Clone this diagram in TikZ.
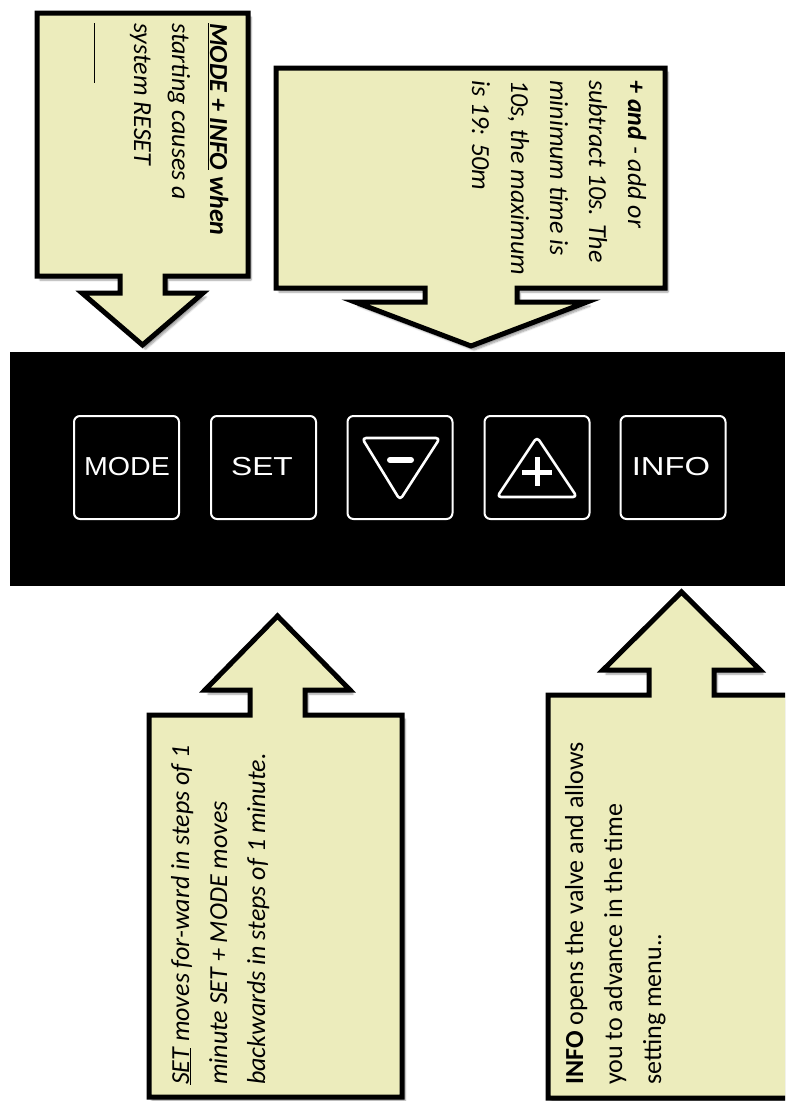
\documentclass[tikz,border=0pt]{standalone}
\usepackage{fontspec}
\usepackage{graphicx}
\setmainfont{Carlito}
\newfontfamily\btnfont{Liberation Sans}
\usetikzlibrary{shadows.blur}
\definecolor{callfill}{RGB}{236,236,188}
\tikzset{
  callout/.style={draw=black, line width=5pt, fill=callfill, line join=miter,
    blur shadow={shadow xshift=3pt, shadow yshift=-4pt, shadow blur steps=6, shadow opacity=40}},
  txt/.style={inner sep=0pt, font=\fontsize{26}{38}\selectfont},
  downtxt/.style={txt, rotate=-90, anchor=base west},
  uptxt/.style={txt, rotate=90, anchor=base west},
  btn/.style={draw=white, line width=2pt, rounded corners=6pt, minimum width=105pt, minimum height=103pt, inner sep=0pt},
  btntxt/.style={text=white, inner sep=0pt, font=\btnfont\fontsize{26}{30}\selectfont},
  icon/.style={draw=white, line width=2.6pt, rounded corners=4pt, line join=round},
}
\begin{document}
\begin{tikzpicture}[x=1pt,y=-1pt]
\useasboundingbox (0,0) rectangle (785,1101);
\clip (0,0) rectangle (785,1101);

% top-left callout
\path[callout] (37,13) -- (248,13) -- (248,276) -- (165,276) -- (165,293) -- (203,293)
  -- (142.5,345) -- (82,293) -- (120,293) -- (120,276) -- (37,276) -- cycle;
\node[downtxt] (tl1) at (210,23) {\bfseries\itshape\underline{MODE + INFO} when};
\node[downtxt] (tl2) at (172,23) {\itshape starting causes a};
\node[downtxt] (tl3) at (134,23) {\itshape system RESET};
\node[downtxt] (tl4) at (96,23) {\underline{\hspace{60pt}}};

% top-right callout
\path[callout] (276,68) -- (665,68) -- (665,288) -- (517,288) -- (517,302) -- (587,302)
  -- (471,346) -- (355,302) -- (425,302) -- (425,288) -- (276,288) -- cycle;
\node[downtxt] (tr1) at (628,80) {\bfseries\itshape + and\mdseries{} - add or};
\node[downtxt] (tr2) at (589,80) {\itshape subtract 10s. The};
\node[downtxt] (tr3) at (550,80) {\itshape minimum time is};
\node[downtxt] (tr4) at (511,80) {\itshape 10s, the maximum};
\node[downtxt] (tr5) at (472,80) {\itshape is 19: 50m};

% panel
\fill[black] (10,352) rectangle (785,586);
\node[btn] (bmode) at (126.5,467.5) {};
\node[btn] (bset)  at (263.5,467.5) {};
\node[btn] (bminus) at (400,467.5) {};
\node[btn] (bplus) at (537,467.5) {};
\node[btn] (binfo) at (673,467.5) {};
\node[btntxt] (lmode) at (127,466.5) {\scalebox{1.1}[1]{MODE}};
\node[btntxt] (lset)  at (262,466.5) {\scalebox{1.22}[1]{SET}};
\node[btntxt] (linfo) at (671,466.5) {\scalebox{1.26}[1]{INFO}};
\draw[icon] (362,438) -- (440,438) -- (400,500) -- cycle;
\draw[white, line width=6pt, line cap=round] (390,460) -- (411,460);
\draw[icon] (537,437) -- (577,497) -- (497,497) -- cycle;
\draw[white, line width=5pt] (522,472) -- (552,472);
\draw[white, line width=5pt] (537,457) -- (537,486);

% bottom-left callout
\path[callout] (149,715) -- (250,715) -- (250,690) -- (205,690) -- (277.5,616) -- (350,690)
  -- (305,690) -- (305,715) -- (402,715) -- (402,1097) -- (149,1097) -- cycle;
\node[uptxt] (bl1) at (189,1085) {\itshape\underline{SET} moves for-ward in steps of 1};
\node[uptxt] (bl2) at (227,1085) {\itshape minute SET + MODE moves};
\node[uptxt] (bl3) at (265,1085) {\itshape backwards in steps of 1 minute.};

% bottom-right callout
\path[callout] (548,695) -- (649,695) -- (649,670) -- (603,670) -- (681.5,592) -- (760,670)
  -- (714,670) -- (714,695) -- (800,695) -- (800,1098) -- (548,1098) -- cycle;
\node[uptxt] (br1) at (583,1085) {\textbf{INFO} opens the valve and allows};
\node[uptxt] (br2) at (622,1085) {you to advance in the time};
\node[uptxt] (br3) at (661,1085) {setting menu..};
\end{tikzpicture}
\end{document}
